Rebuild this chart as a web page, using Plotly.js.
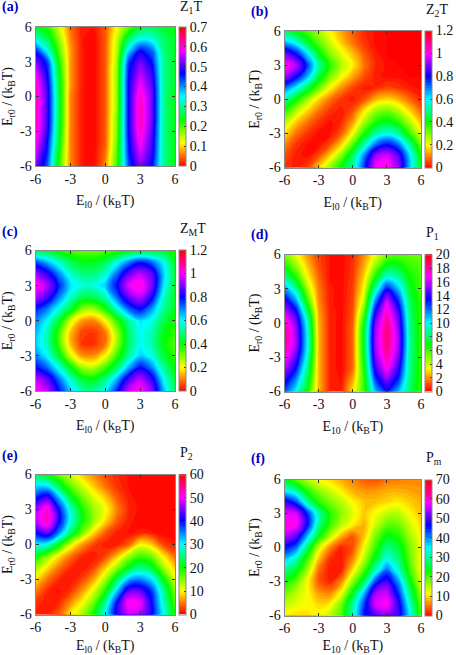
<!DOCTYPE html>
<html>
<head>
<meta charset="utf-8">
<script src="https://cdn.plot.ly/plotly-3.0.1.min.js"></script>
<style>
    html, body { margin: 0; padding: 0; background: #fff; }
</style>
</head>
<body>
<div id="chart" style="width:456px;height:655px"></div>
<script>
// Grid of the maps, rows below run from the top of each panel (y = 6) down to y = -6
const xVals = [-6, -5, -4, -3, -2, -1, 0, 1, 2, 3, 4, 5, 6];
const yVals = [6, 5, 4, 3, 2, 1, 0, -1, -2, -3, -4, -5, -6];
const axisTicks = [-6, -3, 0, 3, 6];

const z1T = [
    [.24, .22, .14, .05, .01, .01, .04, .12, .19, .25, .27, .25, .24],
    [.33, .27, .17, .06, .01, .00, .04, .14, .27, .34, .33, .28, .25],
    [.45, .34, .20, .07, .01, .00, .04, .15, .36, .46, .42, .29, .25],
    [.53, .44, .23, .07, .01, .00, .04, .16, .44, .52, .46, .30, .25],
    [.58, .47, .25, .07, .01, .00, .04, .17, .46, .55, .49, .30, .25],
    [.61, .49, .26, .07, .01, .00, .04, .17, .47, .58, .51, .30, .25],
    [.62, .50, .27, .06, .01, .00, .04, .17, .47, .61, .52, .30, .24],
    [.62, .50, .27, .06, .01, .00, .04, .17, .47, .62, .52, .30, .24],
    [.62, .50, .27, .06, .01, .00, .04, .18, .47, .62, .52, .30, .24],
    [.61, .49, .26, .06, .01, .00, .04, .18, .47, .61, .51, .30, .24],
    [.59, .47, .25, .06, .01, .00, .04, .19, .46, .59, .50, .30, .24],
    [.56, .45, .23, .06, .01, .00, .05, .20, .45, .56, .49, .30, .24],
    [.52, .43, .22, .06, .01, .00, .06, .21, .43, .53, .47, .30, .24]
];

const z2T = [
    [.46, .40, .34, .27, .20, .13, .07, .03, .01, .00, .00, .00, .00],
    [.66, .58, .44, .33, .24, .16, .09, .04, .01, .00, .00, .00, .00],
    [.90, .80, .62, .42, .30, .22, .15, .07, .02, .00, .00, .00, .00],
    [1.02, .95, .76, .52, .37, .26, .19, .09, .03, .01, .00, .00, .00],
    [.94, .82, .66, .45, .31, .21, .13, .06, .02, .01, .01, .00, .00],
    [.72, .60, .46, .32, .20, .11, .05, .02, .03, .05, .04, .02, .01],
    [.54, .40, .28, .17, .09, .04, .02, .06, .14, .17, .14, .08, .03],
    [.38, .27, .17, .09, .04, .02, .06, .18, .28, .31, .26, .17, .08],
    [.27, .16, .09, .04, .01, .03, .12, .27, .38, .42, .37, .26, .15],
    [.18, .09, .04, .01, .01, .07, .21, .38, .52, .58, .52, .36, .22],
    [.11, .04, .01, .01, .06, .17, .34, .54, .72, .80, .72, .52, .31],
    [.06, .02, .01, .06, .17, .31, .48, .70, .93, .98, .88, .63, .38],
    [.04, .02, .05, .17, .29, .42, .52, .76, 1.0, 1.03, .92, .65, .42]
];

const zMT = [
    [.44, .42, .38, .34, .32, .32, .33, .36, .39, .42, .42, .42, .38],
    [.75, .66, .56, .47, .42, .42, .47, .58, .70, .78, .72, .60, .42],
    [.92, .84, .70, .56, .50, .50, .56, .72, .88, .95, .88, .64, .44],
    [1.02, .94, .78, .62, .58, .58, .64, .80, .98, 1.03, .90, .62, .44],
    [.94, .86, .70, .56, .46, .46, .54, .72, .88, .95, .82, .56, .43],
    [.78, .70, .58, .44, .30, .28, .38, .56, .72, .80, .68, .52, .42],
    [.70, .60, .44, .24, .12, .10, .20, .36, .52, .62, .58, .46, .38],
    [.66, .55, .36, .15, .05, .04, .09, .28, .48, .60, .54, .42, .36],
    [.64, .55, .36, .15, .04, .04, .09, .28, .48, .60, .54, .41, .34],
    [.70, .60, .44, .24, .12, .11, .20, .36, .52, .64, .58, .45, .36],
    [.80, .72, .58, .42, .28, .26, .35, .48, .66, .80, .70, .52, .40],
    [.96, .88, .72, .56, .44, .42, .50, .66, .86, .95, .84, .60, .44],
    [1.02, .95, .80, .64, .54, .52, .60, .78, .96, 1.02, .92, .66, .48]
];

const p1 = [
    [5.2, 3.6, 2.0, .8, .2, .1, .5, 1.8, 3.6, 5.0, 5.4, 5.4, 5.3],
    [6.6, 4.8, 2.6, 1.0, .2, .1, .6, 2.2, 4.8, 7.0, 7.0, 6.0, 5.5],
    [8.6, 6.4, 3.4, 1.3, .2, .1, .7, 2.8, 6.6, 9.6, 8.8, 6.6, 5.7],
    [11.5, 8.8, 4.6, 1.6, .3, .1, .8, 3.4, 9.0, 13.2, 10.8, 7.2, 5.8],
    [13.9, 11.2, 6.0, 1.8, .3, .1, .9, 4.2, 11.5, 16, 12.8, 7.8, 5.9],
    [16, 13.6, 8.0, 2.1, .4, .1, 1.0, 5.4, 13.6, 17.4, 14.2, 8.2, 6.0],
    [17.8, 15, 9.5, 2.3, .4, .1, 1.2, 6.7, 15, 18.2, 15, 8.5, 6.0],
    [18.3, 15.5, 10, 2.4, .4, .1, 1.3, 7.2, 15.5, 18.5, 15.5, 8.7, 6.0],
    [18, 15.5, 10, 2.4, .4, .1, 1.3, 7.2, 15.5, 18.4, 15.5, 8.7, 6.0],
    [17.2, 14.5, 9.5, 2.4, .4, .1, 1.3, 7.0, 15, 17.8, 15, 8.6, 6.0],
    [15.8, 13.2, 8.5, 2.4, .4, .1, 1.4, 6.6, 14, 16.8, 14, 8.5, 6.0],
    [14, 11.5, 7.6, 2.4, .4, .2, 2.2, 6.2, 12.6, 15, 12.8, 8.2, 6.0],
    [12.4, 10, 6.8, 2.4, .4, .3, 3.2, 6.0, 11, 13, 11, 8.0, 6.0]
];

const p2 = [
    [22, 20, 16, 12, 8, 5.5, 3, 1.5, .6, .2, .1, .1, .1],
    [31, 31, 23, 16.5, 12, 8, 4.5, 2, .7, .2, .1, .1, .1],
    [39, 43, 33, 22, 16, 11.5, 8, 3.5, 1, .3, .1, .1, .1],
    [46, 52, 40, 28, 19.5, 14, 10.5, 5, 1.5, .4, .1, .1, .1],
    [47, 53, 41, 29, 20, 14, 8.5, 3.5, 1, .2, .1, .1, .1],
    [40, 44, 35, 24, 15.5, 8.5, 3.5, 1.2, .6, 1, .8, .2, .1],
    [30, 29, 21, 11.5, 6, 2.5, 1, 1, 3.5, 10, 8, 2.5, 1],
    [20.5, 15, 9, 4.5, 1.5, .8, 2.5, 7.5, 14, 17.5, 15.5, 9.5, 4],
    [14, 9, 4.5, 1.5, .7, 2.5, 8, 14.5, 21, 25, 22, 14, 8],
    [9, 4.5, 1.5, .6, 2.5, 6.5, 13.5, 23, 33, 35, 31, 21, 11],
    [5, 1.5, .5, 2, 6, 11.5, 19, 32, 44, 44, 38, 26, 15],
    [2, .8, 1.5, 5.5, 10, 15.5, 26, 40, 51, 50, 40, 28, 17],
    [1, 1, 3.5, 9.5, 14, 20, 30, 42, 48, 47, 41, 30, 20]
];

const pm = [
    [24, 19, 15, 12, 10, 8, 6, 4, 3.5, 5, 5.5, 6, 6],
    [35, 31, 22, 17, 14, 11, 8, 7, 7, 8, 8, 7.5, 7],
    [50, 44, 31, 22, 18, 15, 11.5, 9, 9, 10, 11, 9.5, 8],
    [57, 57, 45, 31, 22, 17, 13, 9, 12, 14.5, 15, 11.5, 9],
    [60, 59, 47, 30, 21, 15, 11, 8, 14, 19, 18.5, 14, 10],
    [55, 51, 38, 24, 15, 8, 4, 9, 18, 24, 22, 16, 11],
    [47, 42, 28, 14, 6, 1.5, 3.5, 12, 21, 29, 26, 18, 12],
    [38, 32, 21, 9, 2, .8, 6, 15, 25, 34, 29, 19, 12],
    [30, 25, 16, 5, .8, 1.5, 10.5, 20, 32, 42, 33, 21, 12],
    [24, 19, 12, 4, 1.5, 6, 17, 27, 44, 50, 40, 25, 13],
    [19, 15, 12, 7, 6, 12, 24, 38, 54, 56, 45, 29, 16],
    [15, 13, 12, 10, 11, 18, 30, 44, 57, 59, 49, 33, 18],
    [11, 10, 10, 12, 15, 20, 32, 46, 50, 53, 50, 36, 20]
];

// gnuplot style hsv palette
const hsvScale = [
    [0, '#ff0000'], [1 / 6, '#ffff00'], [1 / 3, '#00ff00'],
    [1 / 2, '#00ffff'], [2 / 3, '#0000ff'], [5 / 6, '#ff00ff'], [1, '#ff0000']
];

const W = 456, H = 655;
const FONT = 'Liberation Serif';

// left, right, top, bottom of each plot box in pixels
const panels = [
    { tag: '(a)', title: 'Z<sub>1</sub>T', z: z1T, zmax: 0.7, dtick: 0.1, box: [35.5, 175, 27, 166], tagAt: [0, 7], titleAt: [178, 8] },
    { tag: '(b)', title: 'Z<sub>2</sub>T', z: z2T, zmax: 1.2, dtick: 0.2, box: [284.5, 421, 31, 167.5], tagAt: [249, 12], titleAt: [424, 10] },
    { tag: '(c)', title: 'Z<sub>M</sub>T', z: zMT, zmax: 1.2, dtick: 0.2, box: [35.5, 175, 250.5, 391], tagAt: [0, 232], titleAt: [178, 230] },
    { tag: '(d)', title: 'P<sub>1</sub>', z: p1, zmax: 20, dtick: 2, box: [284.5, 421, 254.5, 391.5], tagAt: [249, 235], titleAt: [424, 234] },
    { tag: '(e)', title: 'P<sub>2</sub>', z: p2, zmax: 60, dtick: 10, box: [35.5, 175, 474.5, 614.5], tagAt: [0, 456], titleAt: [178, 453] },
    { tag: '(f)', title: 'P<sub>m</sub>', z: pm, zmax: 70, dtick: 10, box: [284.5, 421, 479.5, 615.5], tagAt: [249, 459], titleAt: [424, 458] }
];

const traces = [];
const layout = {
    width: W,
    height: H,
    margin: { l: 0, r: 0, t: 0, b: 0 },
    paper_bgcolor: '#fff',
    plot_bgcolor: '#fff',
    font: { family: FONT, size: 14, color: '#111' },
    showlegend: false,
    annotations: []
};

function axisBase(label, standoff) {
    return {
        range: [-6, 6],
        tickmode: 'array',
        tickvals: axisTicks,
        ticktext: axisTicks.map(String),
        ticks: 'inside',
        ticklen: 3,
        tickcolor: '#333',
        showgrid: false,
        zeroline: false,
        showline: true,
        mirror: 'allticks',
        linecolor: '#888',
        linewidth: 1,
        tickfont: { family: FONT, size: 14, color: '#111' },
        title: { text: label, standoff: standoff, font: { family: FONT, size: 14, color: '#111' } }
    };
}

panels.forEach((p, i) => {
    const n = i === 0 ? '' : String(i + 1);
    const [left, right, top, bottom] = p.box;

    // many thin filled levels with smoothed edges give the continuous look of the map
    traces.push({
        type: 'contour',
        x: xVals,
        y: yVals,
        z: p.z,
        xaxis: 'x' + n,
        yaxis: 'y' + n,
        zauto: false,
        zmin: 0,
        zmax: p.zmax,
        autocontour: false,
        contours: { coloring: 'fill', start: 0, end: p.zmax, size: p.zmax / 84, showlines: false },
        line: { width: 0, smoothing: 1.3 },
        colorscale: hsvScale,
        colorbar: {
            x: (right + 3.5) / W,
            xanchor: 'left',
            xpad: 0,
            y: 1 - bottom / H,
            yanchor: 'bottom',
            ypad: 0,
            len: (bottom - top) / H,
            lenmode: 'fraction',
            thickness: 7,
            thicknessmode: 'pixels',
            outlinecolor: '#888',
            outlinewidth: 1,
            tick0: 0,
            dtick: p.dtick,
            ticks: 'inside',
            ticklen: 2,
            tickcolor: '#333',
            tickfont: { family: FONT, size: 14, color: '#111' }
        }
    });

    const xa = axisBase(i === 3 || i === 5 ? 'E<sub>10</sub> / (k<sub>B</sub>T)' : 'E<sub>l0</sub> / (k<sub>B</sub>T)', 9);
    xa.domain = [left / W, right / W];
    xa.anchor = 'y' + n;
    const ya = axisBase('E<sub>r0</sub> / (k<sub>B</sub>T)', 6);
    ya.domain = [1 - bottom / H, 1 - top / H];
    ya.anchor = 'x' + n;
    layout['xaxis' + n] = xa;
    layout['yaxis' + n] = ya;

    layout.annotations.push({
        xref: 'paper', yref: 'paper', showarrow: false,
        x: p.tagAt[0] / W, y: 1 - p.tagAt[1] / H,
        xanchor: 'left', yanchor: 'middle',
        text: '<b>' + p.tag + '</b>',
        font: { family: FONT, size: 14, color: '#0000c8' }
    });
    layout.annotations.push({
        xref: 'paper', yref: 'paper', showarrow: false,
        x: p.titleAt[0] / W, y: 1 - p.titleAt[1] / H,
        xanchor: 'left', yanchor: 'middle',
        text: p.title,
        font: { family: FONT, size: 14, color: '#111' }
    });
});

Plotly.newPlot('chart', traces, layout, { displayModeBar: false, staticPlot: true });
</script>
</body>
</html>
